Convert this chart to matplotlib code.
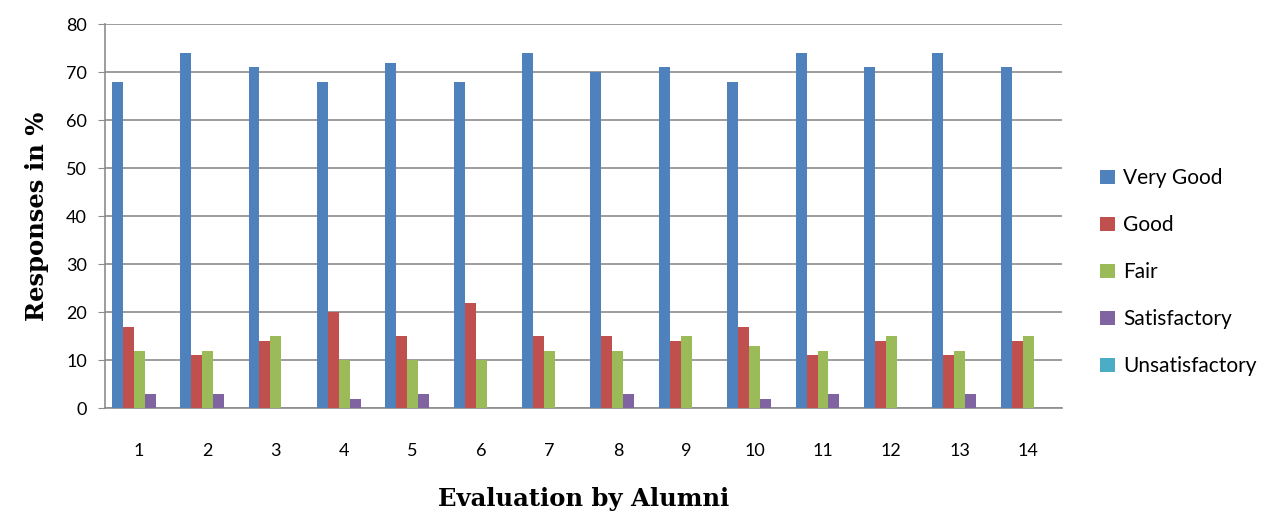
import numpy as np
import matplotlib.pyplot as plt

# data
items = [str(i) for i in range(1, 15)]
very_good = [68, 74, 71, 68, 72, 68, 74, 70, 71, 68, 74, 71, 74, 71]
good = [17, 11, 14, 20, 15, 22, 15, 15, 14, 17, 11, 14, 11, 14]
fair = [12, 12, 15, 10, 10, 10, 12, 12, 15, 13, 12, 15, 12, 15]
satisfactory = [3, 3, 0, 2, 3, 0, 0, 3, 0, 2, 3, 0, 3, 0]
unsatisfactory = [0, 0, 0, 0, 0, 0, 0, 0, 0, 0, 0, 0, 0, 0]

labels = ['Very Good', 'Good', 'Fair', 'Satisfactory', 'Unsatisfactory']
colors = ['#4F81BD', '#C0504D', '#9BBB59', '#8064A2', '#4BACC6']
series = [very_good, good, fair, satisfactory, unsatisfactory]

fig = plt.figure(figsize=(12.63, 5.16), dpi=100)
ax = fig.add_axes([0.0831, 0.209, 0.758, 0.744])

x = np.arange(len(items))
w = 0.16
for k in range(5):
    ax.bar(x + (k - 2) * w, series[k], width=w, color=colors[k],
           label=labels[k], zorder=3)

ax.set_xlim(-0.5, len(items) - 0.5)
ax.set_ylim(0, 80)
ax.set_yticks(range(0, 81, 10))
ax.set_xticks(x)
ax.set_xticklabels(items)
ax.yaxis.grid(True, color='#8c8c8c', linewidth=1.2, zorder=0)
for s in ['top', 'right']:
    ax.spines[s].set_visible(False)
for s in ['left', 'bottom']:
    ax.spines[s].set_color('#8c8c8c')
    ax.spines[s].set_linewidth(1.2)
ax.tick_params(axis='y', length=5, color='#8c8c8c', labelsize=13, pad=8)
ax.tick_params(axis='x', length=0, labelsize=13, pad=25)
for t in ax.get_xticklabels() + ax.get_yticklabels():
    t.set_fontfamily('Lato')

ax.set_ylabel('Responses in %', fontsize=17.5, fontweight='bold',
              family='DejaVu Serif', labelpad=12)
ax.set_xlabel('Evaluation by Alumni', fontsize=17.5, fontweight='bold',
              family='DejaVu Serif', labelpad=20)

ax.legend(loc='center left', bbox_to_anchor=(1.02, 0.354), frameon=False,
          prop={'family': 'Lato', 'size': 15}, labelspacing=1.3,
          handlelength=0.7, handleheight=0.7, handletextpad=0.4)

fig.savefig('out.png', dpi=100)
